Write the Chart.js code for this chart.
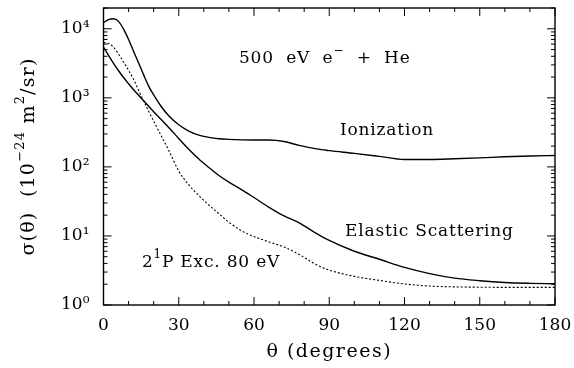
<!DOCTYPE html>
<html>
<head>
<meta charset="utf-8">
<script src="https://cdn.jsdelivr.net/npm/chart.js@4"></script>
<style>
  html, body { margin: 0; padding: 0; background: #fff; }
  #wrap { width: 574px; height: 368px; }
</style>
</head>
<body>
<div id="wrap"><canvas id="xsChart"></canvas></div>
<script>
// scattering angle (degrees)
const theta = [0, 2, 4, 6, 8, 10, 12, 14, 16, 18, 20, 23, 26, 30, 34, 38, 42, 46, 50, 55, 60, 66, 72, 78, 85, 90, 100, 110, 120, 130, 140, 150, 160, 170, 180];

// cross sections, 10^-24 m^2/sr
const ionization = [12300, 13600, 14000, 12800, 9900, 7000, 4700, 3200, 2150, 1480, 1100, 750, 550, 407, 330, 288, 268, 256, 250, 246, 245, 245, 233, 205, 182, 172, 157, 142, 128, 128, 131, 135, 140, 144, 146];
const elastic = [5450, 4130, 3160, 2470, 1970, 1600, 1310, 1090, 905, 755, 630, 485, 373, 258, 180, 130, 98, 75, 60, 47, 36, 26, 19.5, 15.5, 10.8, 8.6, 6.0, 4.6, 3.5, 2.85, 2.45, 2.25, 2.12, 2.06, 2.03];
const excitation = [6300, 6100, 5400, 4300, 3300, 2500, 1850, 1280, 900, 640, 460, 282, 174, 87, 55, 38.5, 28, 21, 15.8, 11.9, 9.8, 8.2, 6.9, 5.4, 3.8, 3.2, 2.6, 2.27, 2.02, 1.88, 1.83, 1.81, 1.80, 1.80, 1.80];

// tick labels
const xTicks = [0, 30, 60, 90, 120, 150, 180];
const yTicks = [1, 10, 100, 1000, 10000];
const yTickLabels = ['10⁰', '10¹', '10²', '10³', '10⁴'];

// text inside the plot, anchored in data coordinates; [text, superscript?] pieces
const notes = [
    { parts: [['500  eV  e', false], ['−', true], ['  +  He', false]], x: 54, y: 3700 },
    { parts: [['Ionization', false]], x: 94.3, y: 340 },
    { parts: [['Elastic Scattering', false]], x: 96.3, y: 11.5 },
    { parts: [['2', false], ['1', true], ['P Exc. 80 eV', false]], x: 15.3, y: 4.1 }
];
const xTitle = [['θ (degrees)', false]];
const yTitle = [['σ(θ)  (10', false], ['−24', true], [' m', false], ['2', true], ['/sr)', false]];

const FONT = '"DejaVu Serif", "Liberation Serif", serif';

function toPoints(values) {
    return theta.map((t, i) => ({ x: t, y: values[i] }));
}

// draws text pieces with raised superscripts, vertically centred at y
function drawRich(ctx, parts, x, y, size, spacing, align) {
    const supSize = Math.round(size * 0.7);
    const widths = parts.map(([t, sup]) => {
        ctx.font = (sup ? supSize : size) + 'px ' + FONT;
        ctx.letterSpacing = spacing + 'px';
        return ctx.measureText(t).width;
    });
    const total = widths.reduce((a, b) => a + b, 0);
    let cx = align === 'center' ? x - total / 2 : x;
    ctx.textAlign = 'left';
    ctx.textBaseline = 'middle';
    parts.forEach(([t, sup], i) => {
        ctx.font = (sup ? supSize : size) + 'px ' + FONT;
        ctx.letterSpacing = spacing + 'px';
        ctx.fillText(t, cx, sup ? y - size * 0.45 : y);
        cx += widths[i];
    });
    ctx.letterSpacing = '0px';
}

// frame, inward ticks on all sides, titles and annotations
const framePlugin = {
    id: 'frame',
    afterDatasetsDraw(chart) {
        const ctx = chart.ctx;
        const area = chart.chartArea;
        const xs = chart.scales.x;
        const ys = chart.scales.y;

        ctx.save();
        ctx.strokeStyle = '#000';
        ctx.lineWidth = 1.4;
        ctx.strokeRect(area.left, area.top, area.right - area.left, area.bottom - area.top);

        ctx.lineWidth = 1;
        ctx.beginPath();
        // x ticks every 10 degrees, major every 30
        for (let t = 0; t <= 180; t += 10) {
            const px = xs.getPixelForValue(t);
            const len = t % 30 === 0 ? 8 : 4;
            ctx.moveTo(px, area.bottom);
            ctx.lineTo(px, area.bottom - len);
            ctx.moveTo(px, area.top);
            ctx.lineTo(px, area.top + len);
        }
        // log ticks
        for (let d = 1; d <= 10000; d *= 10) {
            for (let m = 1; m <= 9; m++) {
                const v = d * m;
                if (v > ys.max) break;
                const py = ys.getPixelForValue(v);
                const len = m === 1 ? 8 : 4;
                ctx.moveTo(area.left, py);
                ctx.lineTo(area.left + len, py);
                ctx.moveTo(area.right, py);
                ctx.lineTo(area.right - len, py);
            }
        }
        ctx.stroke();

        ctx.fillStyle = '#000';
        notes.forEach(n => {
            drawRich(ctx, n.parts, xs.getPixelForValue(n.x), ys.getPixelForValue(n.y), 17, 0.8, 'left');
        });

        // axis titles
        drawRich(ctx, xTitle, (area.left + area.right) / 2, 352, 19, 1.5, 'center');
        ctx.translate(29, (area.top + area.bottom) / 2);
        ctx.rotate(-Math.PI / 2);
        drawRich(ctx, yTitle, 0, 0, 19, 1.2, 'center');
        ctx.restore();
    }
};

const lineStyle = {
    borderColor: '#000',
    pointRadius: 0,
    fill: false,
    cubicInterpolationMode: 'monotone'
};

function noPadding(scale) {
    scale.paddingTop = 0;
    scale.paddingBottom = 0;
    scale.paddingLeft = 0;
    scale.paddingRight = 0;
}

new Chart(document.getElementById('xsChart'), {
    type: 'line',
    data: {
        datasets: [
            Object.assign({ label: 'Ionization', data: toPoints(ionization), borderWidth: 1.4 }, lineStyle),
            Object.assign({ label: 'Elastic Scattering', data: toPoints(elastic), borderWidth: 1.4 }, lineStyle),
            Object.assign({ label: '2¹P Exc. 80 eV', data: toPoints(excitation), borderWidth: 1.1, borderDash: [2, 2] }, lineStyle)
        ]
    },
    options: {
        responsive: true,
        maintainAspectRatio: false,
        animation: false,
        layout: { padding: { left: 0, right: 19, top: 8, bottom: 0 } },
        plugins: {
            legend: { display: false },
            tooltip: { enabled: false }
        },
        scales: {
            x: {
                type: 'linear',
                min: 0,
                max: 180,
                afterBuildTicks: scale => { scale.ticks = xTicks.map(v => ({ value: v })); },
                afterFit: scale => { scale.height = 63; noPadding(scale); },
                grid: { display: false, drawTicks: false },
                border: { display: false },
                ticks: {
                    color: '#000',
                    padding: 10,
                    maxRotation: 0,
                    font: { family: FONT, size: 17 }
                }
            },
            y: {
                type: 'logarithmic',
                min: 1,
                max: 20000,
                afterBuildTicks: scale => { scale.ticks = yTicks.map(v => ({ value: v })); },
                afterFit: scale => { scale.width = 103.5; noPadding(scale); },
                grid: { display: false, drawTicks: false },
                border: { display: false },
                ticks: {
                    color: '#000',
                    padding: 14,
                    font: { family: FONT, size: 17 },
                    callback: (value) => yTickLabels[yTicks.indexOf(value)]
                }
            }
        }
    },
    plugins: [framePlugin]
});
</script>
</body>
</html>
